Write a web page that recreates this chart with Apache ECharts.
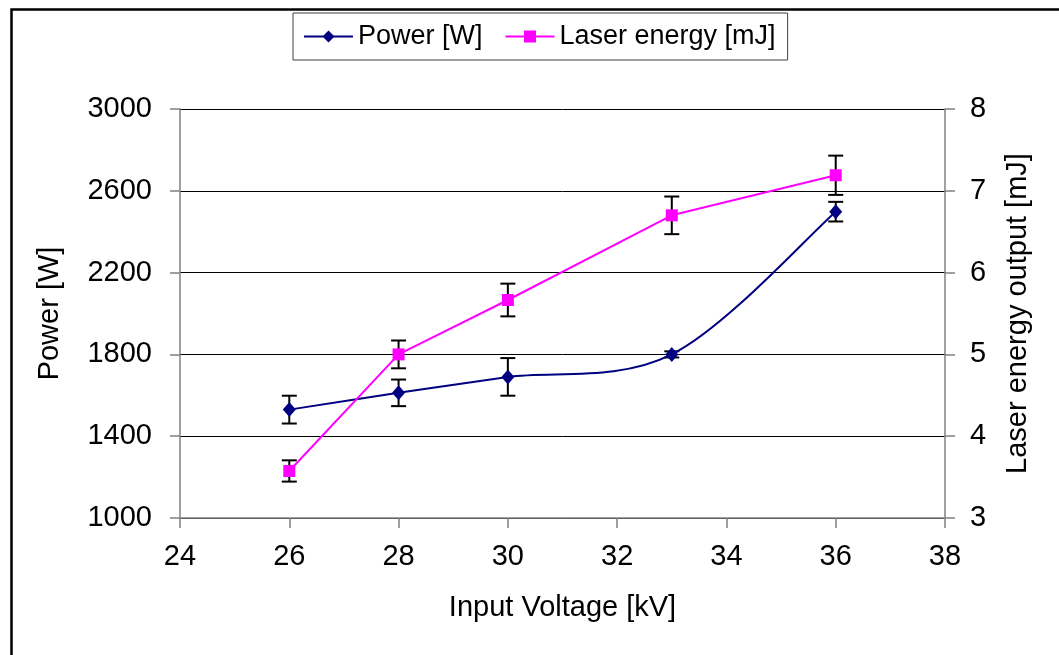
<!DOCTYPE html>
<html>
<head>
<meta charset="utf-8">
<script src="https://cdn.jsdelivr.net/npm/echarts@6/dist/echarts.min.js"></script>
<style>
html,body{margin:0;padding:0;background:#fff;}
#c{width:1059px;height:655px;}
</style>
</head>
<body>
<div id="c"></div>
<script>
// ---- data ----
var voltage = [26, 28, 30, 33, 36];
var power = [1530, 1612, 1690, 1800, 2498];
var powerErr = [68, 65, 92, 15, 48];
var energy = [3.575, 5.0, 5.665, 6.70, 7.19];
var energyErr = [0.13, 0.17, 0.2, 0.23, 0.24];
var xTicks = {min: 24, max: 38, interval: 2};
var yLeftTicks = {min: 1000, max: 3000, interval: 400};
var yRightTicks = {min: 3, max: 8, interval: 1};

var FONT = "'Liberation Sans', Arial, sans-serif";

function pairs(xs, ys) { return xs.map(function (x, i) { return [x, ys[i]]; }); }
function errData(xs, ys, es) { return xs.map(function (x, i) { return [x, ys[i] - es[i], ys[i] + es[i]]; }); }

function errRender(params, api) {
  var x = api.value(0);
  var lo = api.coord([x, api.value(1)]);
  var hi = api.coord([x, api.value(2)]);
  var hw = 7.5;
  var style = {stroke: '#000', lineWidth: 2};
  return {
    type: 'group',
    children: [
      {type: 'line', shape: {x1: lo[0], y1: lo[1], x2: hi[0], y2: hi[1]}, style: style},
      {type: 'line', shape: {x1: lo[0] - hw, y1: lo[1], x2: lo[0] + hw, y2: lo[1]}, style: style},
      {type: 'line', shape: {x1: hi[0] - hw, y1: hi[1], x2: hi[0] + hw, y2: hi[1]}, style: style}
    ]
  };
}

// Excel-style smoothed segment (Catmull-Rom, tension 1/6) through the power points
function curveRender(params, api) {
  var i = params.dataIndex;
  var n = voltage.length;
  if (i >= n - 1) return null;
  var P = function (k) {
    k = Math.max(0, Math.min(n - 1, k));
    return api.coord([voltage[k], power[k]]);
  };
  var p0 = P(i - 1), p1 = P(i), p2 = P(i + 1), p3 = P(i + 2);
  var c1 = [p1[0] + (p2[0] - p0[0]) / 6, p1[1] + (p2[1] - p0[1]) / 6];
  var c2 = [p2[0] - (p3[0] - p1[0]) / 6, p2[1] - (p3[1] - p1[1]) / 6];
  return {
    type: 'bezierCurve',
    shape: {x1: p1[0], y1: p1[1], cpx1: c1[0], cpy1: c1[1], cpx2: c2[0], cpy2: c2[1], x2: p2[0], y2: p2[1]},
    style: {stroke: '#000080', lineWidth: 2, fill: null}
  };
}

var numFmt = function (v) { return String(v); };

var chart = echarts.init(document.getElementById('c'), null, {renderer: 'canvas'});
chart.setOption({
  backgroundColor: '#fff',
  animation: false,
  textStyle: {fontFamily: FONT},
  graphic: [{
    type: 'rect', left: 9, top: 7, z: 100,
    shape: {width: 1200, height: 800},
    style: {fill: 'none', stroke: '#000', lineWidth: 2.5}
  }],
  legend: {
    left: 293, top: 13,
    padding: [10, 12, 10, 10],
    itemWidth: 49, itemHeight: 15, itemGap: 22,
    borderColor: '#404040', borderWidth: 1,
    textStyle: {fontSize: 27, color: '#000', fontFamily: FONT},
    data: [
      {name: 'Power [W]', lineStyle: {color: '#000080', width: 2, opacity: 1}},
      {name: 'Laser energy [mJ]'}
    ]
  },
  grid: {left: 180, right: 114, top: 109, bottom: 137, containLabel: false},
  xAxis: {
    type: 'value', min: xTicks.min, max: xTicks.max, interval: xTicks.interval,
    name: 'Input Voltage [kV]', nameLocation: 'middle', nameGap: 75,
    nameTextStyle: {fontSize: 29, color: '#000', fontFamily: FONT},
    axisLine: {show: true, lineStyle: {color: '#808080', width: 1.5}},
    axisTick: {show: true, length: 10, lineStyle: {color: '#808080', width: 1.5}},
    axisLabel: {fontSize: 29, color: '#000', margin: 24, fontFamily: FONT, formatter: numFmt},
    splitLine: {show: false}
  },
  yAxis: [{
    type: 'value', min: yLeftTicks.min, max: yLeftTicks.max, interval: yLeftTicks.interval,
    position: 'left',
    name: 'Power [W]', nameLocation: 'middle', nameGap: 116,
    nameTextStyle: {fontSize: 29, color: '#000', fontFamily: FONT},
    axisLine: {show: true, lineStyle: {color: '#808080', width: 1.5}},
    axisTick: {show: true, length: 10, lineStyle: {color: '#808080', width: 1.5}},
    axisLabel: {fontSize: 29, color: '#000', margin: 28, fontFamily: FONT, formatter: numFmt},
    splitLine: {show: true, lineStyle: {color: '#000', width: 1}}
  }, {
    type: 'value', min: yRightTicks.min, max: yRightTicks.max, interval: yRightTicks.interval,
    position: 'right',
    name: 'Laser energy output [mJ]', nameLocation: 'middle', nameGap: 58, nameRotate: 90,
    nameTextStyle: {fontSize: 29, color: '#000', fontFamily: FONT},
    axisLine: {show: true, lineStyle: {color: '#808080', width: 1.5}},
    axisTick: {show: true, length: 10, lineStyle: {color: '#808080', width: 1.5}},
    axisLabel: {fontSize: 29, color: '#000', margin: 25, fontFamily: FONT, formatter: numFmt},
    splitLine: {show: false}
  }],
  series: [{
    name: 'Power [W]', type: 'line', yAxisIndex: 0, z: 4,
    data: pairs(voltage, power),
    symbol: 'diamond', symbolSize: [13, 15],
    lineStyle: {color: '#000080', width: 2, opacity: 0},
    itemStyle: {color: '#000080'}
  }, {
    name: 'powerCurve', type: 'custom', yAxisIndex: 0, z: 3,
    renderItem: curveRender,
    encode: {x: 0, y: 1},
    data: pairs(voltage, power)
  }, {
    name: 'Laser energy [mJ]', type: 'line', yAxisIndex: 1, z: 4,
    data: pairs(voltage, energy),
    symbol: 'rect', symbolSize: 12,
    lineStyle: {color: '#FF00FF', width: 2},
    itemStyle: {color: '#FF00FF'}
  }, {
    name: 'powerErr', type: 'custom', yAxisIndex: 0, z: 2,
    renderItem: errRender,
    encode: {x: 0, y: [1, 2]},
    data: errData(voltage, power, powerErr)
  }, {
    name: 'energyErr', type: 'custom', yAxisIndex: 1, z: 2,
    renderItem: errRender,
    encode: {x: 0, y: [1, 2]},
    data: errData(voltage, energy, energyErr)
  }]
});
</script>
</body>
</html>
